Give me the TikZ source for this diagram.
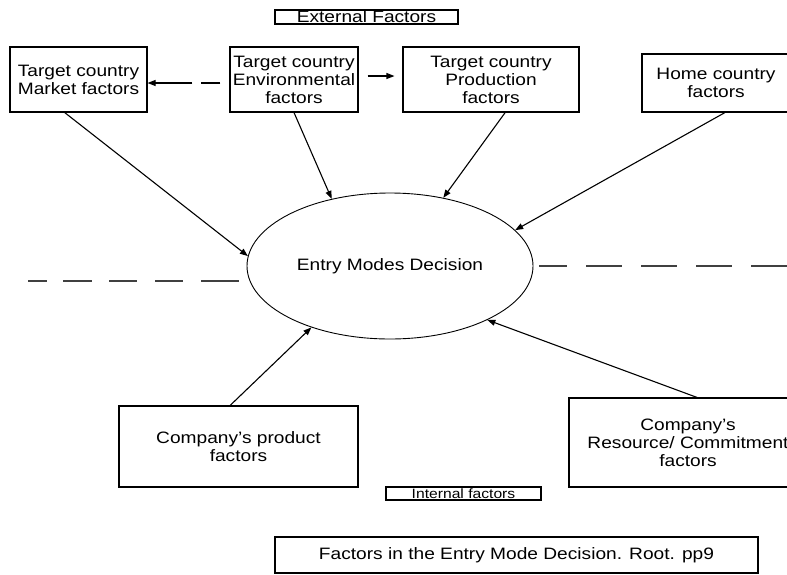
\documentclass[tikz,border=0pt]{standalone}
\usepackage{fontspec}
\setmainfont{Liberation Sans}[FakeStretch=1.16]
\usetikzlibrary{shapes.geometric,arrows.meta,calc}
\begin{document}
\begin{tikzpicture}[x=1pt,y=-1pt,
  box/.style={draw,line width=1.1pt,rectangle,inner sep=0pt,align=center,font=\fontsize{16.5}{18}\selectfont},
  smallbox/.style={draw,line width=1.1pt,rectangle,inner sep=0pt,align=center,font=\fontsize{13.5}{15}\selectfont},
  conn/.style={line width=1.1pt,-{Triangle[length=8pt,width=6pt]}},
  sepline/.style={line width=1.4pt,black!75}]
\clip (0,0) rectangle (787,574);
\fill[white] (0,0) rectangle (787,574);

\node[box,minimum width=183pt,minimum height=14pt] (ext) at (366.5,17) {External Factors};
\node[box,minimum width=137pt,minimum height=65pt] (mkt) at (78.5,79.5) {Target country\\Market factors};
\node[box,minimum width=128pt,minimum height=65pt] (env) at (294,79.5) {Target country\\Environmental\\factors};
\node[box,minimum width=176pt,minimum height=65pt] (prod) at (491,79.5) {Target country\\Production\\factors};
\node[box,minimum width=148pt,minimum height=58pt] (home) at (716,83) {Home country\\factors};

\node[draw,ellipse,line width=0.9pt,inner sep=0pt,minimum width=286pt,minimum height=146pt,font=\fontsize{16.5}{18}\selectfont] (ell) at (390,266) {Entry Modes Decision};

\node[box,minimum width=239pt,minimum height=81pt] (prodf) at (238.5,446.5) {Company’s product\\factors};
\node[box,minimum width=238pt,minimum height=89pt] (res) at (688,442.5) {Company’s\\Resource/ Commitment\\factors};
\node[smallbox,minimum width=155pt,minimum height=13pt] (int) at (463.5,493.5) {Internal factors};
\node[box,minimum width=483pt,minimum height=36pt] (cap) at (516.5,555) {Factors in the Entry Mode Decision. Root. pp9};

% connectors to the decision
\draw[conn] ($(mkt.south west)!0.4!(mkt.south east)$) -- (ell.176.8);
\draw[conn] (env.south) -- (ell.131.8);
\draw[conn] ($(prod.south west)!0.58!(prod.south east)$) -- (ell.52.6);
\draw[conn] ($(home.south west)!0.56!(home.south east)$) -- (ell.16.4);
\draw[conn] ($(prodf.north west)!0.465!(prodf.north east)$) -- (ell.218);
\draw[conn] ($(res.north west)!0.538!(res.north east)$) -- (ell.331.6);

% between the top boxes
\draw[conn,dash pattern=on 19pt off 9pt on 80pt] ($(env.west)+(-9,3.5)$) -- ($(mkt.east)+(0,3.5)$);
\draw[conn] ($(env.east)+(9,-3.5)$) -- ($(prod.west)+(-8,-3.5)$);

% separator lines
\coordinate (l1) at (28,281);
\coordinate (l2) at (239,281);
\coordinate (r1) at (539,266);
\coordinate (r2) at (790,266);
\draw[sepline,dash pattern=on 19pt off 16pt on 29pt off 17pt on 28pt off 18pt on 28pt off 18pt on 40pt] (l1) -- (l2);
\draw[sepline,dash pattern=on 36pt off 19pt,dash phase=8pt] (r1) -- (r2);
\end{tikzpicture}
\end{document}
